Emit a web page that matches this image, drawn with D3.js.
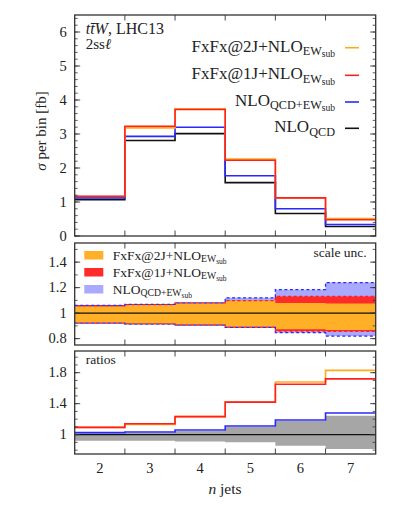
<!DOCTYPE html>
<html><head><meta charset="utf-8">
<script src="https://cdn.jsdelivr.net/npm/d3@7"></script>
<style>body{margin:0;background:#fff}svg{display:block}</style>
</head><body><svg id="c" width="395" height="513" font-family="Liberation Serif, DejaVu Serif, serif" fill="#222"></svg>
<script>
// ---- data ----
const nJets = [2, 3, 4, 5, 6, 7];
const binEdges = [1.5, 2.5, 3.5, 4.5, 5.5, 6.5, 7.5];
// top panel: sigma per bin [fb]
const nloQCD   = [1.07, 2.81, 3.01, 1.57, 0.66, 0.28];
const nloQCDEW = [1.12, 2.93, 3.20, 1.77, 0.80, 0.34];
const fxfx1J   = [1.17, 3.23, 3.72, 2.23, 1.12, 0.48];
const fxfx2J   = [1.16, 3.18, 3.74, 2.26, 1.12, 0.51];
// middle panel: scale uncertainty bands
const fx2Up = [1.058, 1.067, 1.080, 1.098, 1.080, 1.076];
const fx2Dn = [0.922, 0.915, 0.907, 0.890, 0.873, 0.868];
const fx1Up = [1.058, 1.067, 1.080, 1.098, 1.131, 1.131];
const fx1Dn = [0.922, 0.915, 0.907, 0.890, 0.860, 0.857];
const ewUp  = [1.060, 1.068, 1.081, 1.120, 1.184, 1.240];
const ewDn  = [0.921, 0.914, 0.906, 0.888, 0.847, 0.820];
// bottom panel: ratios
const r2J = [1.094, 1.130, 1.232, 1.420, 1.680, 1.830];
const r1J = [1.094, 1.140, 1.232, 1.420, 1.650, 1.720];
const rEW = [1.026, 1.034, 1.060, 1.111, 1.190, 1.280];
const grayUp = [1.018, 1.025, 1.046, 1.100, 1.175, 1.245];
const grayDn = [0.922, 0.920, 0.910, 0.903, 0.858, 0.814];
const topTicks = [0, 1, 2, 3, 4, 5, 6];
const midTicks = [0.8, 1, 1.2, 1.4];
const botTicks = [1, 1.4, 1.8];

const C = {orange:"#ffaa1a", red:"#ff2020", blue:"#2828ff", black:"#111",
  orangeF:"#ffb027", redF:"#ff2a2a", blueF:"#a9a9ff", grayF:"#a6a6a6", frame:"#333"};

const svg = d3.select("#c");
const X0 = 74.7, X1 = 375.7;
const x = d3.scaleLinear().domain([1.5, 7.5]).range([X0, X1]);
const yT = d3.scaleLinear().domain([0, 6.5]).range([236, 15]);
const yM = d3.scaleLinear().domain([0.75, 1.55]).range([345, 243]);
const yB = d3.scaleLinear().domain([0.75, 2.08]).range([454, 351]);

function stepPts(vals){ const p = vals.map((v,i)=>[binEdges[i], v]); p.push([binEdges[6], vals[5]]); return p; }
function stepLine(g, y, vals, color, w){
  g.append("path").attr("d", d3.line().x(d=>x(d[0])).y(d=>y(d[1])).curve(d3.curveStepAfter)(stepPts(vals)))
   .attr("fill","none").attr("stroke",color).attr("stroke-width",w||1.6);
}
function stepBand(g, y, lo, hi, color){
  const p = lo.map((v,i)=>[binEdges[i], v, hi[i]]); p.push([binEdges[6], lo[5], hi[5]]);
  g.append("path").attr("d", d3.area().x(d=>x(d[0])).y0(d=>y(d[1])).y1(d=>y(d[2])).curve(d3.curveStepAfter)(p))
   .attr("fill",color).attr("stroke","none");
}
function frame(y, major, minorStep, fmt){
  const [d0,d1] = y.domain();
  const g = svg.append("g");
  const minor = d3.range(Math.ceil(d0/minorStep-1e-9)*minorStep, d1+1e-9, minorStep);
  minor.forEach(v=>{
    [[X0,X0+3],[X1,X1-3]].forEach(([a,b])=>g.append("line").attr("x1",a).attr("x2",b).attr("y1",y(v)).attr("y2",y(v)).attr("stroke",C.frame).attr("stroke-width",0.8));
  });
  major.forEach(v=>{
    [[X0,X0+5.5],[X1,X1-5.5]].forEach(([a,b])=>g.append("line").attr("x1",a).attr("x2",b).attr("y1",y(v)).attr("y2",y(v)).attr("stroke",C.frame).attr("stroke-width",0.9));
    g.append("text").attr("x",X0-8).attr("y",y(v)+4.5).attr("text-anchor","end").attr("font-size",14.5).text(fmt(v));
  });
  const [r0,r1] = y.range();
  binEdges.slice(1,-1).forEach(e=>{
    g.append("line").attr("x1",x(e)).attr("x2",x(e)).attr("y1",r0).attr("y2",r0-5.5).attr("stroke",C.frame).attr("stroke-width",0.9);
    g.append("line").attr("x1",x(e)).attr("x2",x(e)).attr("y1",r1).attr("y2",r1+5.5).attr("stroke",C.frame).attr("stroke-width",0.9);
  });
  g.append("rect").attr("x",X0).attr("y",r1).attr("width",X1-X0).attr("height",r0-r1).attr("fill","none").attr("stroke",C.frame).attr("stroke-width",1.3);
}
// label with subscripts: parts = [[text, level]]
function rich(g, xx, yy, parts, size, anchor){
  const t = g.append("text").attr("x",xx).attr("y",yy).attr("font-size",size).attr("text-anchor",anchor||"start");
  const off = [0, size*0.2, size*0.32];
  let prev = 0;
  parts.forEach(([s,l])=>{
    const sz = l===0?size:(l===1?size*0.72:size*0.56);
    t.append("tspan").attr("font-size",sz).attr("dy",off[l]-off[prev]).text(s);
    prev = l;
  });
  return t;
}
const defs = svg.append("defs");
["T","M","B"].forEach((k,i)=>{
  const y=[yT,yM,yB][i];
  defs.append("clipPath").attr("id","cl"+k).append("rect").attr("x",X0).attr("y",y.range()[1]).attr("width",X1-X0).attr("height",y.range()[0]-y.range()[1]);
});

// ---- top panel ----
const gT = svg.append("g").attr("clip-path","url(#clT)");
stepLine(gT, yT, nloQCD, C.black);
stepLine(gT, yT, nloQCDEW, C.blue);
stepLine(gT, yT, fxfx2J, C.orange);
stepLine(gT, yT, fxfx1J, C.red);
frame(yT, topTicks, 0.2, d=>d);

// title
const tt = svg.append("text").attr("x",85.7).attr("y",33.5).attr("font-size",16);
tt.append("tspan").attr("font-style","italic").text("tt\u0304W");
tt.append("tspan").text(", LHC13");
const t2 = svg.append("text").attr("x",85.7).attr("y",49).attr("font-size",15);
t2.append("tspan").text("2ss");
t2.append("tspan").attr("font-style","italic").text("\u2113");

// top legend
const legT = [
  {c:C.orange, y:51.7, parts:[["FxFx@2J+NLO",0],["EW",1],["sub",2]]},
  {c:C.red,    y:79.3, parts:[["FxFx@1J+NLO",0],["EW",1],["sub",2]]},
  {c:C.blue,   y:106,  parts:[["NLO",0],["QCD+EW",1],["sub",2]]},
  {c:C.black,  y:132.3,parts:[["NLO",0],["QCD",1]]}
];
legT.forEach(l=>{
  rich(svg, 335, l.y, l.parts, 17, "end");
  svg.append("line").attr("x1",345).attr("x2",359).attr("y1",l.y-4).attr("y2",l.y-4).attr("stroke",l.c).attr("stroke-width",1.6);
});

// y axis label
svg.append("text").attr("transform","translate(46,131) rotate(-90)").attr("text-anchor","middle").attr("font-size",15)
  .html('<tspan font-style="italic">σ</tspan> per bin [fb]');

// ---- middle panel ----
const gM = svg.append("g").attr("clip-path","url(#clM)");
stepBand(gM, yM, ewDn, ewUp, C.blueF);
stepBand(gM, yM, fx1Dn, fx1Up, C.redF);
stepBand(gM, yM, fx2Dn, fx2Up, C.orangeF);
stepLine(gM, yM, [1,1,1,1,1,1], C.black, 1.2);
[fx1Up, fx1Dn].forEach(v=>{
  const p = d3.line().x(d=>x(d[0])).y(d=>yM(d[1])).curve(d3.curveStepAfter)(stepPts(v));
  gM.append("path").attr("d",p).attr("fill","none").attr("stroke",C.red).attr("stroke-width",1.3).attr("stroke-dasharray","3,2.5").attr("stroke-dashoffset",2.7);
});
[ewUp, ewDn].forEach(v=>{
  const p = d3.line().x(d=>x(d[0])).y(d=>yM(d[1])).curve(d3.curveStepAfter)(stepPts(v));
  gM.append("path").attr("d",p).attr("fill","none").attr("stroke",C.blue).attr("stroke-width",1.3).attr("stroke-dasharray","3,2.5");
});
frame(yM, midTicks, 0.1, d=>d===1?"1":d3.format(".1f")(d));
const legM = [
  {c:C.orangeF, y:251, parts:[["FxFx@2J+NLO",0],["EW",1],["sub",2]]},
  {c:C.redF,    y:268, parts:[["FxFx@1J+NLO",0],["EW",1],["sub",2]]},
  {c:C.blueF,   y:285, parts:[["NLO",0],["QCD+EW",1],["sub",2]]}
];
legM.forEach(l=>{
  svg.append("rect").attr("x",84.3).attr("y",l.y).attr("width",19).attr("height",8.5).attr("fill",l.c);
  rich(svg, 112.7, l.y+8.5, l.parts, 13.5, "start");
});
svg.append("text").attr("x",366.7).attr("y",256.7).attr("text-anchor","end").attr("font-size",13.5).text("scale unc.");

// ---- bottom panel ----
const gB = svg.append("g").attr("clip-path","url(#clB)");
stepBand(gB, yB, grayDn, grayUp, C.grayF);
stepLine(gB, yB, [1,1,1,1,1,1], C.black, 1.4);
stepLine(gB, yB, rEW, C.blue);
stepLine(gB, yB, r2J, C.orange);
stepLine(gB, yB, r1J, C.red);
frame(yB, botTicks, 0.1, d=>d===1?"1":d3.format(".1f")(d));
svg.append("text").attr("x",85.7).attr("y",364).attr("font-size",13.5).text("ratios");

// x tick labels
nJets.forEach(n=>svg.append("text").attr("x",x(n)).attr("y",473).attr("text-anchor","middle").attr("font-size",14.5).text(n));
svg.append("text").attr("x",225).attr("y",494).attr("text-anchor","middle").attr("font-size",15.5)
  .html('<tspan font-style="italic">n</tspan> jets');
</script></body></html>
